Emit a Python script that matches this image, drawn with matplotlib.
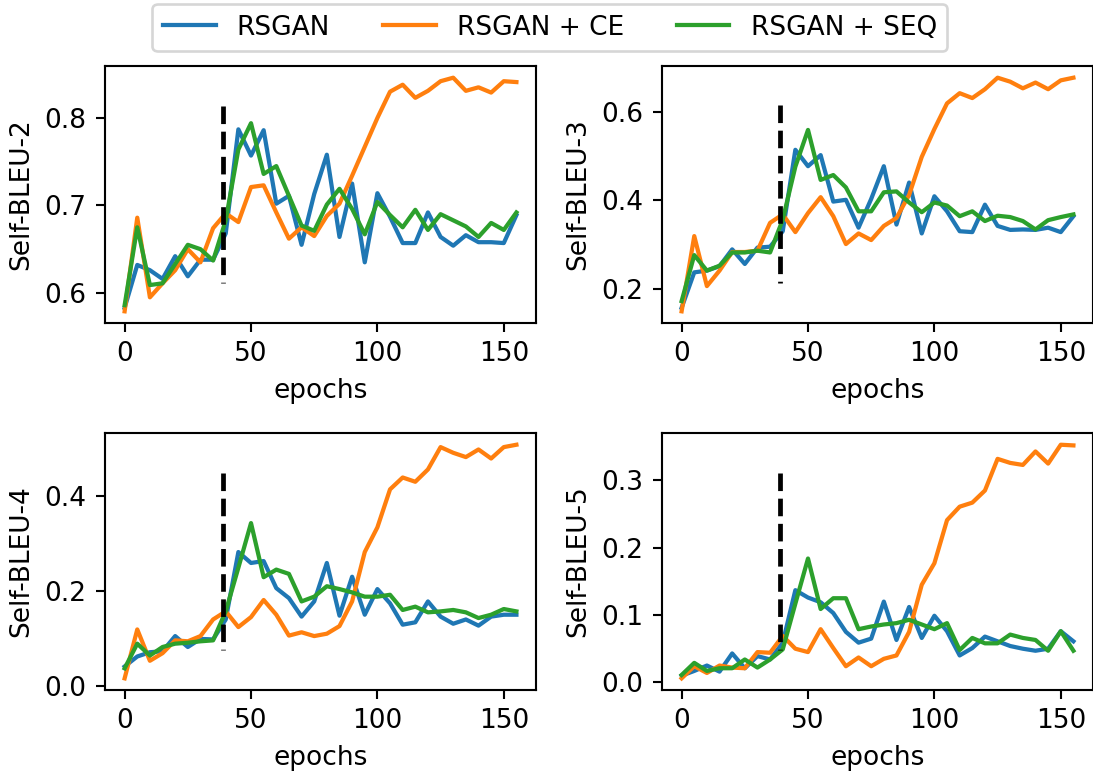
import numpy as np
import matplotlib
matplotlib.use('Agg')
import matplotlib.pyplot as plt

# epochs: every 5 from 0 to 155
epochs = np.arange(0, 160, 5)
switch_epoch = 39

labels = ['RSGAN', 'RSGAN + CE', 'RSGAN + SEQ']
ylabels = ['Self-BLEU-2', 'Self-BLEU-3', 'Self-BLEU-4', 'Self-BLEU-5']

# Self-BLEU-2
bleu2_rsgan = [0.583, 0.632, 0.626, 0.616, 0.642, 0.619, 0.638, 0.638, 0.668, 0.787,
               0.757, 0.786, 0.702, 0.711, 0.655, 0.713, 0.758, 0.664, 0.725, 0.635,
               0.714, 0.687, 0.657, 0.657, 0.692, 0.664, 0.654, 0.666, 0.658, 0.658,
               0.657, 0.689]
bleu2_ce = [0.579, 0.686, 0.595, 0.611, 0.626, 0.650, 0.635, 0.674, 0.691, 0.681,
            0.721, 0.723, 0.692, 0.662, 0.675, 0.665, 0.688, 0.702, 0.734, 0.767,
            0.800, 0.830, 0.838, 0.823, 0.831, 0.842, 0.846, 0.831, 0.835, 0.829,
            0.842, 0.841]
bleu2_seq = [0.586, 0.675, 0.609, 0.611, 0.633, 0.655, 0.650, 0.637, 0.683, 0.764,
             0.794, 0.736, 0.745, 0.711, 0.677, 0.671, 0.701, 0.719, 0.696, 0.667,
             0.704, 0.689, 0.675, 0.695, 0.672, 0.690, 0.683, 0.676, 0.664, 0.680,
             0.672, 0.692]

# Self-BLEU-3
bleu3_rsgan = [0.157, 0.237, 0.241, 0.251, 0.289, 0.256, 0.293, 0.295, 0.330, 0.514,
               0.477, 0.502, 0.397, 0.401, 0.338, 0.403, 0.477, 0.345, 0.440, 0.325,
               0.409, 0.375, 0.330, 0.328, 0.390, 0.342, 0.333, 0.334, 0.333, 0.338,
               0.328, 0.364]
bleu3_ce = [0.149, 0.319, 0.206, 0.241, 0.283, 0.283, 0.286, 0.349, 0.368, 0.328,
            0.371, 0.407, 0.364, 0.301, 0.325, 0.310, 0.342, 0.360, 0.412, 0.498,
            0.561, 0.619, 0.642, 0.631, 0.651, 0.677, 0.668, 0.653, 0.666, 0.651,
            0.671, 0.677]
bleu3_seq = [0.172, 0.276, 0.241, 0.252, 0.282, 0.282, 0.286, 0.282, 0.356, 0.476,
             0.559, 0.446, 0.457, 0.429, 0.375, 0.375, 0.418, 0.420, 0.395, 0.373,
             0.395, 0.388, 0.364, 0.375, 0.353, 0.365, 0.362, 0.353, 0.334, 0.355,
             0.362, 0.368]

# Self-BLEU-4
bleu4_rsgan = [0.042, 0.063, 0.072, 0.074, 0.106, 0.083, 0.100, 0.099, 0.141, 0.283,
               0.260, 0.264, 0.207, 0.186, 0.147, 0.179, 0.260, 0.149, 0.231, 0.151,
               0.205, 0.175, 0.130, 0.135, 0.179, 0.147, 0.132, 0.141, 0.128, 0.147,
               0.151, 0.151]
bleu4_ce = [0.017, 0.120, 0.054, 0.070, 0.097, 0.095, 0.106, 0.141, 0.158, 0.125,
            0.146, 0.182, 0.151, 0.107, 0.114, 0.106, 0.111, 0.127, 0.179, 0.283,
            0.335, 0.415, 0.440, 0.431, 0.457, 0.504, 0.492, 0.483, 0.499, 0.480,
            0.504, 0.509]
bleu4_seq = [0.038, 0.090, 0.065, 0.083, 0.090, 0.092, 0.095, 0.097, 0.158, 0.250,
             0.344, 0.230, 0.246, 0.237, 0.179, 0.189, 0.211, 0.205, 0.198, 0.189,
             0.189, 0.193, 0.161, 0.168, 0.156, 0.158, 0.161, 0.156, 0.144, 0.151,
             0.163, 0.158]

# Self-BLEU-5
bleu5_rsgan = [0.010, 0.017, 0.025, 0.016, 0.043, 0.021, 0.039, 0.034, 0.059, 0.137,
               0.126, 0.119, 0.103, 0.075, 0.059, 0.065, 0.120, 0.063, 0.112, 0.066,
               0.099, 0.076, 0.040, 0.051, 0.068, 0.061, 0.054, 0.050, 0.047, 0.050,
               0.076, 0.061]
bleu5_ce = [0.006, 0.024, 0.014, 0.025, 0.022, 0.021, 0.045, 0.044, 0.069, 0.050,
            0.045, 0.079, 0.051, 0.024, 0.037, 0.024, 0.035, 0.040, 0.075, 0.145,
            0.177, 0.241, 0.261, 0.267, 0.285, 0.332, 0.326, 0.323, 0.343, 0.325,
            0.353, 0.352]
bleu5_seq = [0.011, 0.029, 0.017, 0.021, 0.021, 0.034, 0.022, 0.034, 0.049, 0.117,
             0.184, 0.109, 0.125, 0.125, 0.079, 0.083, 0.086, 0.088, 0.093, 0.086,
             0.079, 0.088, 0.048, 0.066, 0.058, 0.058, 0.071, 0.066, 0.063, 0.047,
             0.076, 0.047]

# vertical marker extent per panel (data units)
switch_lo = [0.611, 0.213, 0.077, 0.048]
switch_hi = [0.814, 0.616, 0.450, 0.311]

panels = [
    (bleu2_rsgan, bleu2_ce, bleu2_seq),
    (bleu3_rsgan, bleu3_ce, bleu3_seq),
    (bleu4_rsgan, bleu4_ce, bleu4_seq),
    (bleu5_rsgan, bleu5_ce, bleu5_seq),
]

dpi = 190
fig = plt.figure(figsize=(1093 / dpi, 774 / dpi), dpi=dpi)

# axes boxes in figure fractions
lefts = [0.0961, 0.6057, 0.0961, 0.6057]
bottoms = [0.5827, 0.5827, 0.1085, 0.1085]
width, height = 0.3943, 0.3320

handles = None
for k, series in enumerate(panels):
    ax = fig.add_axes([lefts[k], bottoms[k], width, height])
    lines = []
    for s, lab in zip(series, labels):
        ln, = ax.plot(epochs, s, label=lab, linewidth=1.6)
        lines.append(ln)
    # drawn top-down so the dash pattern starts at the top
    ax.plot([switch_epoch, switch_epoch], [switch_hi[k], switch_lo[k]], 'k--', linewidth=1.8)
    ax.set_xlabel('epochs')
    ax.set_ylabel(ylabels[k])
    ax.set_xticks([0, 50, 100, 150])
    if handles is None:
        handles = lines

fig.legend(handles, labels, loc='upper center', ncol=3,
           bbox_to_anchor=(0.503, 1.0), borderaxespad=0.15)

fig.savefig('out.png', dpi=dpi)
